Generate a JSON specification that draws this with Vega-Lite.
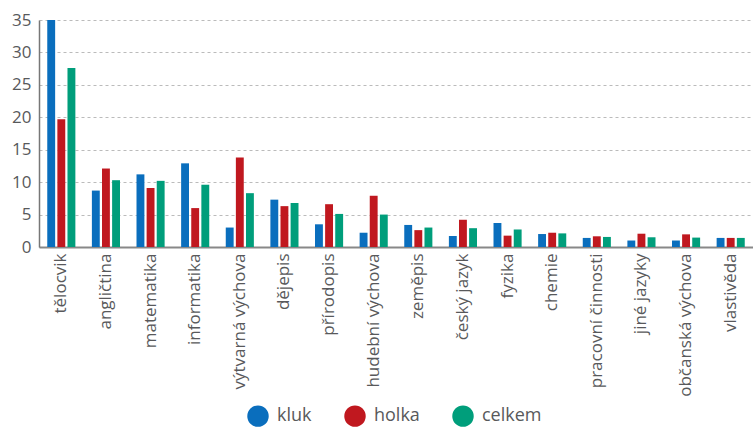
{
  "$schema": "https://vega.github.io/schema/vega-lite/v6.json",
  "width": 714,
  "height": 227,
  "autosize": {"type": "none"},
  "padding": {"left": 39, "top": 20, "right": 0, "bottom": 180},
  "background": "white",
  "config": {
    "font": "Open Sans",
    "view": {"stroke": null}
  },
  "data": {
    "values": [
      {"predmet": "tělocvik", "skupina": "kluk", "hodnota": 35.0},
      {"predmet": "tělocvik", "skupina": "holka", "hodnota": 19.7},
      {"predmet": "tělocvik", "skupina": "celkem", "hodnota": 27.6},
      {"predmet": "angličtina", "skupina": "kluk", "hodnota": 8.7},
      {"predmet": "angličtina", "skupina": "holka", "hodnota": 12.1},
      {"predmet": "angličtina", "skupina": "celkem", "hodnota": 10.3},
      {"predmet": "matematika", "skupina": "kluk", "hodnota": 11.2},
      {"predmet": "matematika", "skupina": "holka", "hodnota": 9.1},
      {"predmet": "matematika", "skupina": "celkem", "hodnota": 10.2},
      {"predmet": "informatika", "skupina": "kluk", "hodnota": 12.9},
      {"predmet": "informatika", "skupina": "holka", "hodnota": 6.0},
      {"predmet": "informatika", "skupina": "celkem", "hodnota": 9.6},
      {"predmet": "výtvarná výchova", "skupina": "kluk", "hodnota": 3.0},
      {"predmet": "výtvarná výchova", "skupina": "holka", "hodnota": 13.8},
      {"predmet": "výtvarná výchova", "skupina": "celkem", "hodnota": 8.3},
      {"predmet": "dějepis", "skupina": "kluk", "hodnota": 7.3},
      {"predmet": "dějepis", "skupina": "holka", "hodnota": 6.3},
      {"predmet": "dějepis", "skupina": "celkem", "hodnota": 6.8},
      {"predmet": "přírodopis", "skupina": "kluk", "hodnota": 3.5},
      {"predmet": "přírodopis", "skupina": "holka", "hodnota": 6.6},
      {"predmet": "přírodopis", "skupina": "celkem", "hodnota": 5.1},
      {"predmet": "hudební výchova", "skupina": "kluk", "hodnota": 2.2},
      {"predmet": "hudební výchova", "skupina": "holka", "hodnota": 7.9},
      {"predmet": "hudební výchova", "skupina": "celkem", "hodnota": 5.0},
      {"predmet": "zeměpis", "skupina": "kluk", "hodnota": 3.4},
      {"predmet": "zeměpis", "skupina": "holka", "hodnota": 2.6},
      {"predmet": "zeměpis", "skupina": "celkem", "hodnota": 3.0},
      {"predmet": "český jazyk", "skupina": "kluk", "hodnota": 1.7},
      {"predmet": "český jazyk", "skupina": "holka", "hodnota": 4.2},
      {"predmet": "český jazyk", "skupina": "celkem", "hodnota": 2.9},
      {"predmet": "fyzika", "skupina": "kluk", "hodnota": 3.7},
      {"predmet": "fyzika", "skupina": "holka", "hodnota": 1.75},
      {"predmet": "fyzika", "skupina": "celkem", "hodnota": 2.7},
      {"predmet": "chemie", "skupina": "kluk", "hodnota": 2.0},
      {"predmet": "chemie", "skupina": "holka", "hodnota": 2.2},
      {"predmet": "chemie", "skupina": "celkem", "hodnota": 2.1},
      {"predmet": "pracovní činnosti", "skupina": "kluk", "hodnota": 1.4},
      {"predmet": "pracovní činnosti", "skupina": "holka", "hodnota": 1.65},
      {"predmet": "pracovní činnosti", "skupina": "celkem", "hodnota": 1.55},
      {"predmet": "jiné jazyky", "skupina": "kluk", "hodnota": 1.0},
      {"predmet": "jiné jazyky", "skupina": "holka", "hodnota": 2.05},
      {"predmet": "jiné jazyky", "skupina": "celkem", "hodnota": 1.5},
      {"predmet": "občanská výchova", "skupina": "kluk", "hodnota": 1.0},
      {"predmet": "občanská výchova", "skupina": "holka", "hodnota": 1.95},
      {"predmet": "občanská výchova", "skupina": "celkem", "hodnota": 1.45},
      {"predmet": "vlastivěda", "skupina": "kluk", "hodnota": 1.4},
      {"predmet": "vlastivěda", "skupina": "holka", "hodnota": 1.4},
      {"predmet": "vlastivěda", "skupina": "celkem", "hodnota": 1.4}
    ]
  },
  "mark": {"type": "bar"},
  "encoding": {
    "x": {
      "field": "predmet",
      "type": "nominal",
      "sort": null,
      "title": null,
      "scale": {"paddingInner": 0.37, "paddingOuter": 0.185},
      "axis": {
        "labelAngle": -90,
        "labelAlign": "right",
        "labelBaseline": "middle",
        "labelFontSize": 17,
        "labelColor": "#58595B",
        "labelPadding": 6,
        "labelLimit": 200,
        "ticks": false,
        "domainColor": "#888888",
        "domainWidth": 2
      }
    },
    "xOffset": {
      "field": "skupina",
      "type": "nominal",
      "sort": ["kluk", "holka", "celkem"],
      "scale": {"paddingInner": 0.22, "paddingOuter": 0}
    },
    "y": {
      "field": "hodnota",
      "type": "quantitative",
      "title": null,
      "scale": {"domain": [0, 35], "nice": false},
      "axis": {
        "values": [0, 5, 10, 15, 20, 25, 30, 35],
        "labelFontSize": 17,
        "labelColor": "#58595B",
        "labelPadding": 8,
        "ticks": false,
        "domainColor": "#777777",
        "domainWidth": 1.5,
        "grid": true,
        "gridColor": "#BBBBBB",
        "gridDash": [3, 3],
        "gridWidth": 1
      }
    },
    "color": {
      "field": "skupina",
      "type": "nominal",
      "sort": ["kluk", "holka", "celkem"],
      "scale": {"domain": ["kluk", "holka", "celkem"], "range": ["#0A6EBD", "#C0181F", "#009E7B"]},
      "legend": {
        "title": null,
        "orient": "none",
        "direction": "horizontal",
        "legendX": 208,
        "legendY": 385,
        "symbolType": "circle",
        "symbolSize": 460,
        "symbolStrokeWidth": 0,
        "labelFontSize": 18,
        "labelColor": "#58595B",
        "labelOffset": 8,
        "columnPadding": 32
      }
    }
  }
}
